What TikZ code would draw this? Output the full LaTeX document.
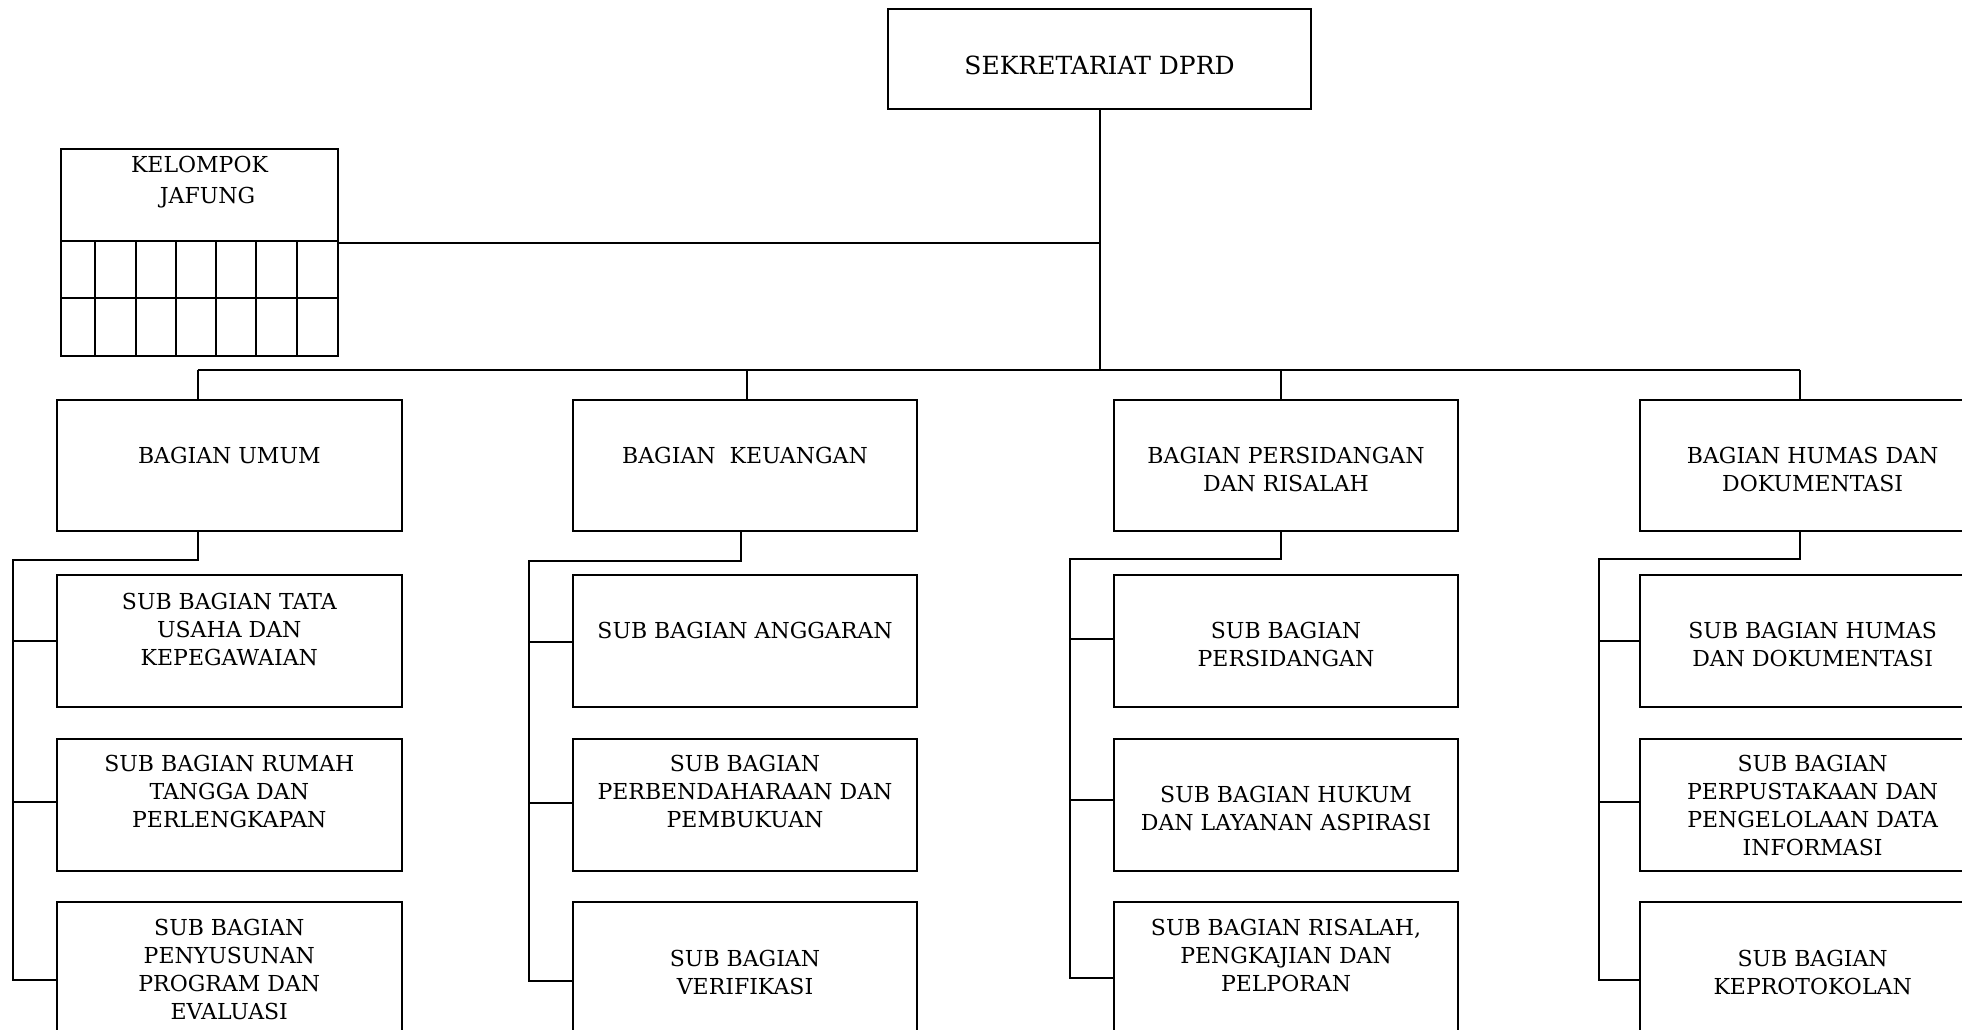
\documentclass[tikz,border=0pt]{standalone}
\usepackage{fontspec}
\setmainfont{DejaVu Serif}
\newcommand\fsz{\fontsize{11pt}{14pt}\selectfont}
\newcommand\fszb{\fontsize{12.5pt}{15pt}\selectfont}
\newcommand\fszj{\fontsize{11pt}{15.6pt}\selectfont}
\begin{document}
\begin{tikzpicture}[x=0.5pt,y=-0.5pt,
  conn/.style={line width=1pt},
  box/.style={draw, line width=1pt, rectangle, inner sep=0pt, anchor=north west,
              minimum width=172.3pt, minimum height=65.7pt},
  lbl/.style={anchor=north, inner sep=0pt, align=center, font=\fsz}]
\useasboundingbox (0,0) rectangle (1962,1029);

% top
\node[box, minimum width=211.2pt, minimum height=50.15pt] (top) at (887.3,8) {};
\node[lbl, font=\fszb] (ttop) at ([yshift=-24pt]top.north) {SEKRETARIAT DPRD};

% jafung
\node[box, minimum width=138.5pt, minimum height=103.35pt] (jafung) at (60,148.3) {};
\node[lbl, font=\fszj] (tjafung) at ([yshift=-3.85pt]jafung.north) {KELOMPOK\\\hspace*{8pt}JAFUNG};
\draw[line width=0.9pt] (60,241) -- (337,241) (60,298) -- (337,298);
\foreach \gx in {95.3,135.7,176.3,216.3,256.3,296.7}
  \draw[line width=0.9pt] (\gx,241) -- (\gx,355);

% bagian
\node[box] (b1) at (56,399) {};
\node[box] (b2) at (571.7,399) {};
\node[box] (b3) at (1112.7,399) {};
\node[box] (b4) at (1639.3,399) {};
\node[lbl] (tb1) at ([yshift=-23.85pt]b1.north) {BAGIAN UMUM};
\node[lbl] (tb2) at ([yshift=-23.85pt]b2.north) {BAGIAN\ \ KEUANGAN};
\node[lbl] (tb3) at ([yshift=-23.85pt]b3.north) {BAGIAN PERSIDANGAN\\DAN RISALAH};
\node[lbl] (tb4) at ([yshift=-23.85pt]b4.north) {BAGIAN HUMAS DAN\\DOKUMENTASI};

% sub bagian row 1
\node[box] (s11) at (56,574.3) {};
\node[box] (s21) at (571.7,574.3) {};
\node[box] (s31) at (1112.7,574.3) {};
\node[box] (s41) at (1639.3,574.3) {};
\node[lbl] (ts11) at ([yshift=-9pt]s11.north) {SUB BAGIAN TATA\\USAHA DAN\\KEPEGAWAIAN};
\node[lbl] (ts21) at ([yshift=-23.7pt]s21.north) {SUB BAGIAN ANGGARAN};
\node[lbl] (ts31) at ([yshift=-23.7pt]s31.north) {SUB BAGIAN\\PERSIDANGAN};
\node[lbl] (ts41) at ([yshift=-23.7pt]s41.north) {SUB BAGIAN HUMAS\\DAN DOKUMENTASI};

% row 2
\node[box] (s12) at (56,738.3) {};
\node[box] (s22) at (571.7,738.3) {};
\node[box] (s32) at (1112.7,738.3) {};
\node[box] (s42) at (1639.3,738.3) {};
\node[lbl] (ts12) at ([yshift=-8.35pt]s12.north) {SUB BAGIAN RUMAH\\TANGGA DAN\\PERLENGKAPAN};
\node[lbl] (ts22) at ([yshift=-8.35pt]s22.north) {SUB BAGIAN\\PERBENDAHARAAN DAN\\PEMBUKUAN};
\node[lbl] (ts32) at ([yshift=-23.85pt]s32.north) {SUB BAGIAN HUKUM\\DAN LAYANAN ASPIRASI};
\node[lbl] (ts42) at ([yshift=-8.35pt]s42.north) {SUB BAGIAN\\PERPUSTAKAAN DAN\\PENGELOLAAN DATA\\INFORMASI};

% row 3
\node[box] (s13) at (56,901.3) {};
\node[box] (s23) at (571.7,901.3) {};
\node[box] (s33) at (1112.7,901.3) {};
\node[box] (s43) at (1639.3,901.3) {};
\node[lbl] (ts13) at ([yshift=-8.5pt]s13.north) {SUB BAGIAN\\PENYUSUNAN\\PROGRAM DAN\\EVALUASI};
\node[lbl] (ts23) at ([yshift=-24.35pt]s23.north) {SUB BAGIAN\\VERIFIKASI};
\node[lbl] (ts33) at ([yshift=-8.5pt]s33.north) {SUB BAGIAN RISALAH,\\PENGKAJIAN DAN\\PELPORAN};
\node[lbl] (ts43) at ([yshift=-24.35pt]s43.north) {SUB BAGIAN\\KEPROTOKOLAN};

% connectors
\foreach \c/\xt/\xb/\xl/\yh/\ye/\ya/\yb in {
  1/197.7/197.7/13/560/980/641/802.3,
  2/746.7/740.7/529.3/561/980.7/641.7/803,
  3/1280.7/1280.7/1070/559.3/977.7/639.3/800,
  4/1800/1800/1598.7/559/980/640.7/801.7}{
  \coordinate (bus\c) at (\xt,370);
  \coordinate (k\c) at (\xb,\yh);
  \coordinate (l\c) at (\xl,\yh);
  \coordinate (e\c) at (\xl,\ye);
  \coordinate (m\c) at (\xl,\ya);
  \coordinate (n\c) at (\xl,\yb);
  \draw[conn] (bus\c) -- (bus\c |- b\c.north);
  \draw[conn] (k\c |- b\c.south) -- (k\c) -- (l\c) -- (e\c) -- (e\c -| s\c3.west);
  \draw[conn] (m\c) -- (m\c -| s\c1.west);
  \draw[conn] (n\c) -- (n\c -| s\c2.west);
}
\draw[conn] (bus1) -- (bus4);
\draw[conn] (top.south) -- (top.south |- bus1);
\coordinate (jj) at (1098.5,242.7);
\draw[conn] (jj) -- (jafung.east |- jj);
\end{tikzpicture}
\end{document}
